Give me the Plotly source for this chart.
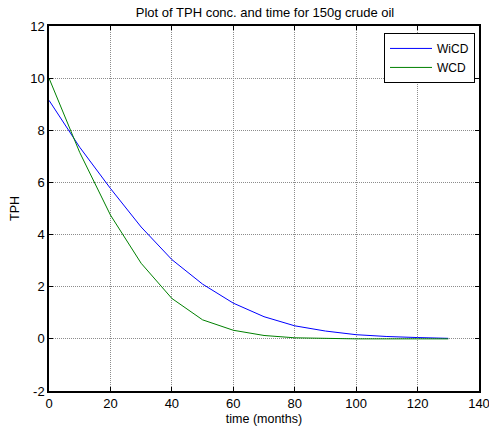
import plotly.graph_objects as go

months = [0, 10, 20, 30, 40, 50, 60, 70, 80, 90, 100, 110, 120, 130]
wicd = [9.15, 7.35, 5.77, 4.29, 3.04, 2.10, 1.37, 0.85, 0.50, 0.30, 0.16, 0.09, 0.05, 0.02]
wcd = [10.0, 7.15, 4.75, 2.90, 1.55, 0.73, 0.33, 0.13, 0.04, 0.01, 0.0, 0.0, 0.0, 0.0]

x_ticks = [0, 20, 40, 60, 80, 100, 120, 140]
y_ticks = [-2, 0, 2, 4, 6, 8, 10, 12]
y_labels = ["-2", "0", "2", "4", "6", "8", "10", "12"]

font = "Liberation Sans, Arial, sans-serif"

fig = go.Figure()
fig.add_trace(go.Scatter(x=months, y=wicd, mode="lines", name="WiCD",
                         line=dict(color="#0000ff", width=1)))
fig.add_trace(go.Scatter(x=months, y=wcd, mode="lines", name="WCD",
                         line=dict(color="#008000", width=1)))

axis_common = dict(
    showline=True, linecolor="black", linewidth=1.5, mirror="ticks",
    ticks="inside", ticklen=4, tickcolor="black",
    showgrid=True, gridcolor="#8c8c8c", griddash="1px,1px", gridwidth=1,
    zeroline=False, automargin=False, ticklabeloverflow="allow",
    tickfont=dict(family=font, size=13, color="black"),
)

fig.update_layout(
    width=489, height=432,
    margin=dict(l=49, r=10, t=26, b=41, autoexpand=False),
    paper_bgcolor="white", plot_bgcolor="white",
    title=dict(text="Plot of TPH conc. and time for 150g crude oil",
               x=0.542, xanchor="center", y=0.972, yanchor="middle",
               automargin=False,
               font=dict(family=font, size=13, color="black")),
    xaxis=dict(range=[0, 140], tickvals=x_ticks,
               title=dict(text="time (months)", standoff=4,
                          font=dict(family=font, size=12.5, color="black")),
               **axis_common),
    yaxis=dict(range=[-2, 12], tickvals=y_ticks, ticktext=y_labels,
               title=dict(text="TPH", standoff=8,
                          font=dict(family=font, size=12.5, color="black")),
               **axis_common),
    legend=dict(x=0.9907, y=0.981, xanchor="right", yanchor="top",
                bordercolor="black", borderwidth=1, bgcolor="white",
                font=dict(family=font, size=12, color="black"),
                tracegroupgap=0, itemwidth=42),
    showlegend=True,
)

fig.write_html("out.html", config={"displayModeBar": False},
               post_script="document.body.style.margin='0';document.body.style.overflow='hidden';")
